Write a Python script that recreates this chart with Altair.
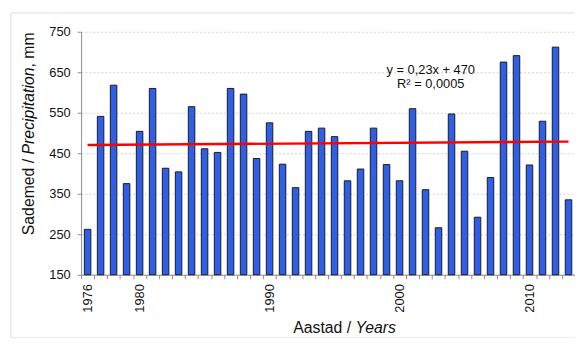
import altair as alt
import pandas as pd

years = list(range(1976, 2014))
precip = [262, 541, 618, 375, 504, 610, 413, 404, 565, 461,
          452, 610, 596, 437, 525, 423, 365, 504, 512, 491,
          382, 411, 512, 422, 382, 560, 360, 266, 547, 455,
          292, 390, 675, 691, 421, 529, 712, 335]
y_ticks = [150, 250, 350, 450, 550, 650, 750]
x_label_years = [1976, 1980, 1990, 2000, 2010]
tick_bounds = [y - 0.5 for y in years] + [years[-1] + 0.5]

trend_years = [1976, 2013]
trend_values = [470.2, 478.7]

eq_lines = ["y = 0,23x + 470", "R\u00b2 = 0,0005"]
eq_year = [2002.4, 2002.4]
eq_value = [656, 622]

FONT = "Liberation Sans"

df = pd.DataFrame({"year": years, "precip": precip})
trend_df = pd.DataFrame({"year": trend_years, "value": trend_values})
eq_df = pd.DataFrame({"year": eq_year, "value": eq_value, "label": eq_lines})
one = pd.DataFrame({"k": [0]})

xscale = alt.Scale(domain=[1975.5, 2013.5], nice=False, zero=False)
yscale = alt.Scale(domain=[150, 750], nice=False, zero=False)

tick_axis = alt.Axis(
    values=tick_bounds, labels=False, tickSize=4, tickColor="#8c8c8c",
    domainColor="#8c8c8c", grid=False, title=None, orient="bottom",
)
label_axis = alt.Axis(
    values=x_label_years, format="d", labelAngle=270, labelFont=FONT,
    labelFontSize=13, labelColor="#111", labelOverlap=False, labelFlush=False,
    labelPadding=9, ticks=False, domain=False, grid=False, title=None,
    orient="bottom",
)
yaxis = alt.Axis(
    values=y_ticks, labelFont=FONT, labelFontSize=13, labelColor="#111",
    labelPadding=7, tickSize=4, tickColor="#8c8c8c", domainColor="#8c8c8c",
    grid=True, gridColor="#d4d4d4", gridDash=[2, 2], title=None,
)

bars = alt.Chart(df).transform_calculate(
    x0="datum.year - 0.25", x1="datum.year + 0.25"
).mark_bar(color="#2f5fe8", stroke="#1a1a1a", strokeWidth=1).encode(
    x=alt.X("x0:Q", scale=xscale, axis=tick_axis),
    x2="x1:Q",
    y=alt.Y("precip:Q", scale=yscale, axis=yaxis),
    y2=alt.datum(150),
)

trend = alt.Chart(trend_df).mark_line(color="#ff0000", strokeWidth=2.5).encode(
    x=alt.X("year:Q", scale=xscale, axis=label_axis),
    y=alt.Y("value:Q", scale=yscale),
)

eq = alt.Chart(eq_df).mark_text(font=FONT, fontSize=13, color="#111", align="center", baseline="middle").encode(
    x=alt.X("year:Q", scale=xscale, axis=None),
    y=alt.Y("value:Q", scale=yscale),
    text="label:N",
)

# Axis titles with mixed upright / italic parts
yt1 = alt.Chart(one).mark_text(text="Sademed / ", font=FONT, fontSize=16, angle=270, align="left", baseline="middle", color="#111").encode(
    x=alt.value(-53), y=alt.value(206))
yt2 = alt.Chart(one).mark_text(text="Precipitation", font=FONT, fontSize=16, fontStyle="italic", angle=270, align="left", baseline="middle", color="#111").encode(
    x=alt.value(-53), y=alt.value(124.2))
yt3 = alt.Chart(one).mark_text(text=", mm", font=FONT, fontSize=16, angle=270, align="left", baseline="middle", color="#111").encode(
    x=alt.value(-53), y=alt.value(36.2))

xt1 = alt.Chart(one).mark_text(text="Aastad / ", font=FONT, fontSize=16, align="left", baseline="alphabetic", color="#111").encode(
    x=alt.value(214.7), y=alt.value(305))
xt2 = alt.Chart(one).mark_text(text="Years", font=FONT, fontSize=16, fontStyle="italic", align="left", baseline="alphabetic", color="#111").encode(
    x=alt.value(277.9), y=alt.value(305))

frame = alt.Chart(one).mark_rect(fill=None, stroke="#dcdcdc", strokeWidth=1).encode(
    x=alt.value(-71), x2=alt.value(520), y=alt.value(-19), y2=alt.value(310))

chart = alt.layer(frame, bars, trend, eq, yt1, yt2, yt3, xt1, xt2).resolve_axis(
    x="independent"
).properties(
    width=500, height=246,
    autosize=alt.AutoSizeParams(type="none"),
    padding={"left": 74, "top": 22, "right": 0, "bottom": 62},
    background="white",
).configure_view(stroke=None)

chart.save("out.html", embed_options={"renderer": "svg", "actions": False})
